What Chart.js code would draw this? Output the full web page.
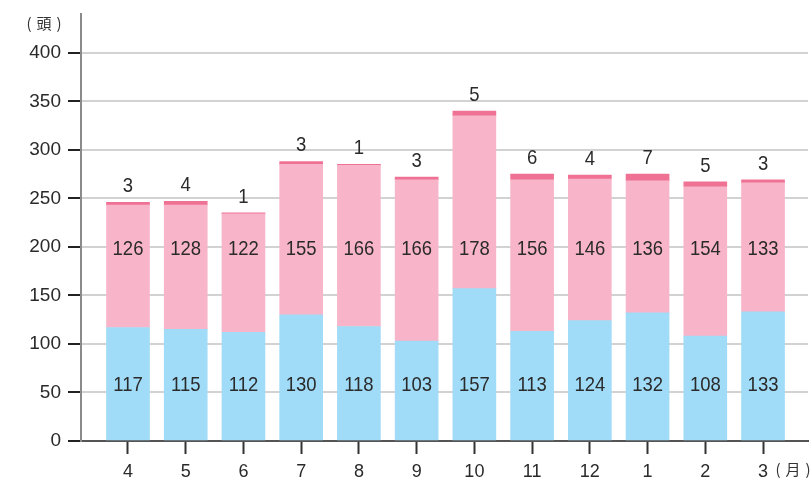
<!DOCTYPE html>
<html>
<head>
<meta charset="utf-8">
<script src="https://cdn.jsdelivr.net/npm/chart.js@4"></script>
<style>
  html, body { margin: 0; padding: 0; background: #fff; }
  #wrap { width: 811px; height: 480px; }
</style>
</head>
<body>
<div id="wrap"><canvas id="c" width="811" height="480"></canvas></div>
<script>
// Monthly head counts (April to March)
const months = ['4', '5', '6', '7', '8', '9', '10', '11', '12', '1', '2', '3'];
const lower  = [117, 115, 112, 130, 118, 103, 157, 113, 124, 132, 108, 133];
const middle = [126, 128, 122, 155, 166, 166, 178, 156, 146, 136, 154, 133];
const upper  = [3, 4, 1, 3, 1, 3, 5, 6, 4, 7, 5, 3];
const yTicks = [0, 50, 100, 150, 200, 250, 300, 350, 400];

const TEXT = '#2a2a2a';
const FONT = '"Liberation Sans", Arial, Helvetica, sans-serif';
const CJK = '"Noto Sans CJK JP", sans-serif';

const toPoints = arr => arr.map((v, i) => ({ x: i, y: v }));

// Draws a number slightly condensed, centred on (x, y)
function drawNumber(ctx, text, x, y) {
  ctx.save();
  ctx.translate(x, y);
  ctx.scale(0.88, 1);
  ctx.fillText(text, 0, 0);
  ctx.restore();
}

// Draws a bracketed unit such as (頭) with spaced brackets
function drawUnit(ctx, ch, cx, y, gap) {
  ctx.fillText('(', cx - gap, y);
  ctx.fillText(ch, cx, y);
  ctx.fillText(')', cx + gap, y);
}

const labelPlugin = {
  id: 'valueLabels',
  afterDatasetsDraw(chart) {
    const { ctx, scales: { y } } = chart;
    ctx.save();
    ctx.fillStyle = TEXT;
    ctx.textAlign = 'center';
    ctx.textBaseline = 'middle';
    ctx.font = '21px ' + FONT;
    const rowY = [y.getPixelForValue(57), y.getPixelForValue(198)];
    [lower, middle].forEach((arr, d) => {
      const meta = chart.getDatasetMeta(d);
      arr.forEach((v, i) => drawNumber(ctx, String(v), meta.data[i].x, rowY[d]));
    });
    const topMeta = chart.getDatasetMeta(2);
    upper.forEach((v, i) => {
      const bar = topMeta.data[i];
      drawNumber(ctx, String(v), bar.x, bar.y - 16);
    });
    ctx.restore();
  },
  afterDraw(chart) {
    const { ctx } = chart;
    ctx.save();
    ctx.fillStyle = '#333';
    ctx.textBaseline = 'middle';
    ctx.textAlign = 'center';
    ctx.font = '15px ' + CJK;
    drawUnit(ctx, '頭', 44, 23, 15);
    drawUnit(ctx, '月', 793, 469, 15);
    ctx.restore();
  }
};

new Chart(document.getElementById('c'), {
  type: 'bar',
  data: {
    datasets: [
      { data: toPoints(lower),  backgroundColor: '#a0dcf7' },
      { data: toPoints(middle), backgroundColor: '#f8b5ca' },
      { data: toPoints(upper),  backgroundColor: '#ef7294' }
    ]
  },
  options: {
    responsive: false,
    animation: false,
    devicePixelRatio: 1,
    layout: { padding: { left: 0, right: 3, top: 14, bottom: 0 } },
    datasets: { bar: { barThickness: 43, borderWidth: 0 } },
    plugins: { legend: { display: false }, tooltip: { enabled: false } },
    scales: {
      x: {
        type: 'linear',
        stacked: true,
        offset: false,
        min: -0.814,
        max: 11.779,
        afterBuildTicks: s => { s.ticks = months.map((_, i) => ({ value: i })); },
        afterFit: s => { s.height = 39; s.paddingLeft = 0; s.paddingRight = 0; },
        ticks: {
          callback: v => months[v],
          color: TEXT,
          font: { family: FONT, size: 18 },
          padding: 7,
          maxRotation: 0,
          autoSkip: false
        },
        grid: {
          offset: false,
          drawOnChartArea: false,
          drawTicks: true,
          tickLength: 13,
          tickColor: '#333',
          tickWidth: 2
        },
        border: { color: '#555', width: 2 }
      },
      y: {
        stacked: true,
        min: 0,
        max: 440,
        afterBuildTicks: s => { s.ticks = yTicks.map(v => ({ value: v })); },
        afterFit: s => { s.width = 81; s.paddingTop = 0; s.paddingBottom = 0; },
        ticks: {
          color: TEXT,
          font: { family: FONT, size: 19 },
          padding: 7
        },
        grid: {
          color: '#d2d2d2',
          lineWidth: 2,
          tickColor: '#222',
          tickWidth: 2,
          tickLength: 13
        },
        border: { color: '#8a8a8a', width: 2 }
      }
    }
  },
  plugins: [labelPlugin]
});
</script>
</body>
</html>
